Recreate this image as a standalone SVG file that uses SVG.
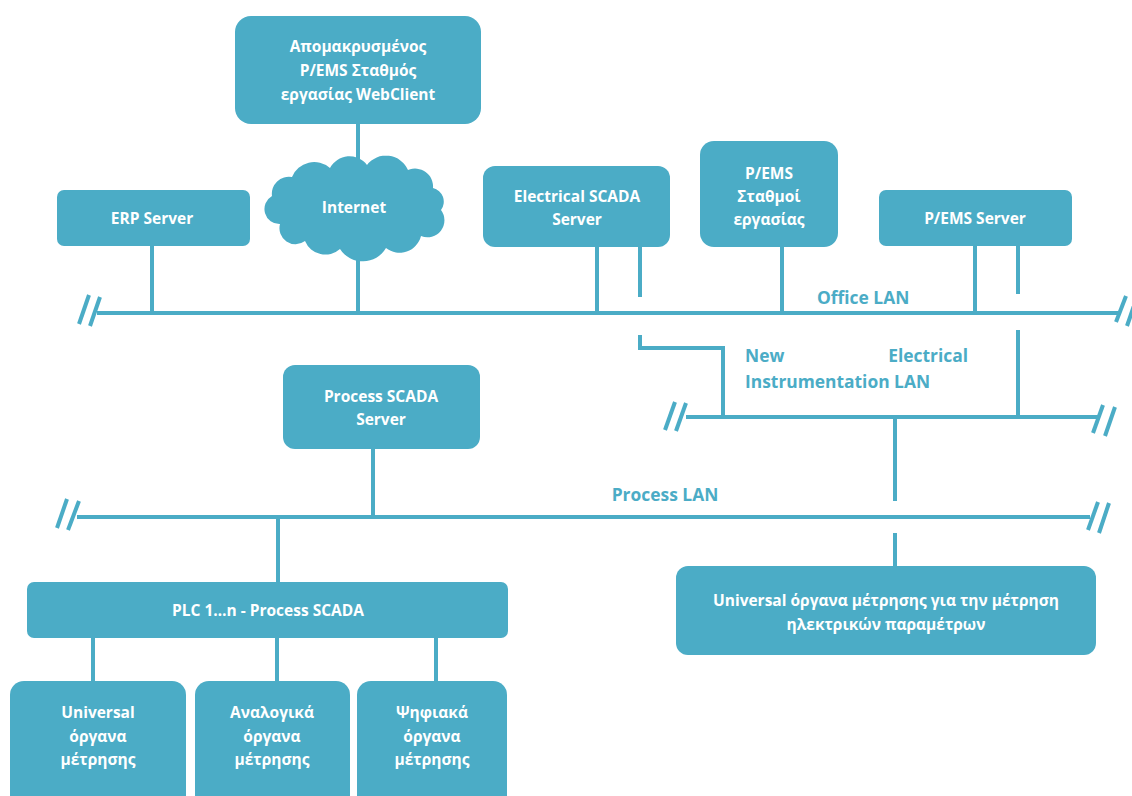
<svg xmlns="http://www.w3.org/2000/svg" width="1132" height="796" viewBox="0 0 1132 796">
<style>
.box{fill:#4BACC6}
.t{font-family:"Open Sans","Liberation Sans",sans-serif;font-weight:bold;font-size:15.5px;fill:#fff;text-anchor:middle}
.lbl{font-family:"Open Sans","Liberation Sans",sans-serif;font-weight:bold;font-size:17.4px;fill:#4BACC6}
.ln{stroke:#4BACC6;stroke-width:4;fill:none}
</style>
<rect width="1132" height="796" fill="#fff"/>
<g id="connectors" class="ln">
<line x1="97" y1="313" x2="1118" y2="313"/>
<line x1="89" y1="295" x2="79" y2="324"/>
<line x1="100" y1="297" x2="90" y2="326"/>
<line x1="1126" y1="296" x2="1116" y2="322"/>
<line x1="1137" y1="297" x2="1127" y2="326"/>
<line x1="686" y1="417" x2="1098" y2="417"/>
<line x1="675" y1="402" x2="665" y2="430"/>
<line x1="686" y1="403" x2="676" y2="431"/>
<line x1="1103" y1="405" x2="1093" y2="433"/>
<line x1="1115" y1="407" x2="1105" y2="436"/>
<line x1="77" y1="517" x2="1090" y2="517"/>
<line x1="67" y1="499" x2="57" y2="528"/>
<line x1="79" y1="501" x2="68" y2="530"/>
<line x1="1098" y1="502" x2="1088" y2="530"/>
<line x1="1109" y1="503" x2="1099" y2="533"/>
<line x1="152" y1="246" x2="152" y2="313"/>
<line x1="358" y1="124" x2="358" y2="175"/>
<line x1="358" y1="240" x2="358" y2="313"/>
<line x1="597" y1="247" x2="597" y2="313"/>
<line x1="640" y1="247" x2="640" y2="297"/>
<polyline points="640,335 640,348 723,348 723,417"/>
<line x1="782" y1="247" x2="782" y2="313"/>
<line x1="975" y1="246" x2="975" y2="313"/>
<line x1="1018" y1="246" x2="1018" y2="294"/>
<line x1="1018" y1="330" x2="1018" y2="417"/>
<line x1="895" y1="417" x2="895" y2="501"/>
<line x1="895" y1="533" x2="895" y2="566"/>
<line x1="373" y1="449" x2="373" y2="517"/>
<line x1="278" y1="517" x2="278" y2="582"/>
<line x1="93" y1="638" x2="93" y2="681"/>
<line x1="277" y1="638" x2="277" y2="681"/>
<line x1="436" y1="638" x2="436" y2="681"/>
</g>
<g id="labels">
<text class="lbl" x="817" y="304">Office LAN</text>
<text class="lbl" x="745" y="362">New</text>
<text class="lbl" x="968" y="362" text-anchor="end">Electrical</text>
<text class="lbl" x="745" y="388">Instrumentation LAN</text>
<text class="lbl" x="665" y="501" text-anchor="middle">Process LAN</text>
</g>
<g id="remote">
<rect class="box" x="235" y="16" width="246" height="108" rx="16"/>
<text class="t" x="358" y="52">Απομακρυσμένος</text>
<text class="t" x="358" y="76">P/EMS Σταθμός</text>
<text class="t" x="358" y="100">εργασίας WebClient</text>
</g>
<g id="erp">
<rect class="box" x="57" y="190" width="193" height="56" rx="7"/>
<text class="t" x="152" y="224">ERP Server</text>
</g>
<g id="internet">
<path class="box" d="M280 224 A15 15 0 0 1 272 196 A17 17 0 0 1 292 177 A24 24 0 0 1 330 168 A22 22 0 0 1 367 165 A24 24 0 0 1 408 170 A18 18 0 0 1 433 188 A14 14 0 0 1 441 210 A17 17 0 0 1 421 236 A22 22 0 0 1 386 248 A27 27 0 0 1 340 249 A22 22 0 0 1 305 241 A16 16 0 0 1 280 224 Z"/>
<text class="t" x="354" y="213">Internet</text>
</g>
<g id="escada">
<rect class="box" x="483" y="166" width="187" height="81" rx="12"/>
<text class="t" x="577" y="202">Electrical SCADA</text>
<text class="t" x="577" y="225">Server</text>
</g>
<g id="pems-ws">
<rect class="box" x="700" y="141" width="138" height="106" rx="14"/>
<text class="t" x="769" y="179">P/EMS</text>
<text class="t" x="769" y="202">Σταθμοί</text>
<text class="t" x="769" y="225">εργασίας</text>
</g>
<g id="pems-server">
<rect class="box" x="879" y="190" width="193" height="56" rx="7"/>
<text class="t" x="975" y="224">P/EMS Server</text>
</g>
<g id="pscada">
<rect class="box" x="283" y="365" width="197" height="84" rx="12"/>
<text class="t" x="381" y="402">Process SCADA</text>
<text class="t" x="381" y="425">Server</text>
</g>
<g id="plc">
<rect class="box" x="27" y="582" width="481" height="56" rx="7"/>
<text class="t" x="268" y="616">PLC 1…n - Process SCADA</text>
</g>
<g id="universal-elec">
<rect class="box" x="676" y="566" width="420" height="89" rx="12"/>
<text class="t" x="886" y="606">Universal όργανα μέτρησης για την μέτρηση</text>
<text class="t" x="886" y="630">ηλεκτρικών παραμέτρων</text>
</g>
<g id="universal">
<rect class="box" x="10" y="681" width="176" height="130" rx="14"/>
<text class="t" x="98" y="718">Universal</text>
<text class="t" x="98" y="742">όργανα</text>
<text class="t" x="98" y="765">μέτρησης</text>
</g>
<g id="analog">
<rect class="box" x="195" y="681" width="155" height="130" rx="14"/>
<text class="t" x="272" y="718">Αναλογικά</text>
<text class="t" x="272" y="742">όργανα</text>
<text class="t" x="272" y="765">μέτρησης</text>
</g>
<g id="digital">
<rect class="box" x="357" y="681" width="150" height="130" rx="14"/>
<text class="t" x="432" y="718">Ψηφιακά</text>
<text class="t" x="432" y="742">όργανα</text>
<text class="t" x="432" y="765">μέτρησης</text>
</g>
</svg>
